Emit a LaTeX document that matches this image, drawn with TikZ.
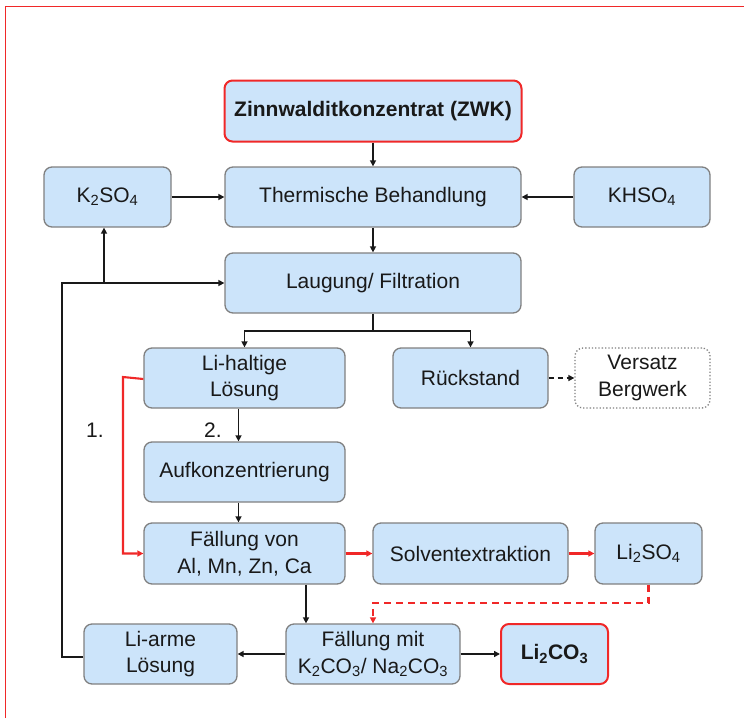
\documentclass[tikz,border=0pt]{standalone}
\usepackage{fontspec}
\setmainfont{Liberation Sans}
\usetikzlibrary{arrows.meta}
\definecolor{boxfill}{RGB}{204,228,250}
\definecolor{boxline}{RGB}{128,128,128}
\definecolor{txt}{RGB}{25,25,25}
\definecolor{redl}{RGB}{240,40,40}
\tikzset{
  box/.style={draw=boxline, fill=boxfill, line width=1.3pt, rounded corners=8pt,
    align=center, text=txt, font=\fontsize{21}{26.5}\selectfont, inner sep=0pt},
  keybox/.style={box, draw=redl, line width=2pt},
  dotbox/.style={box, fill=white, dotted, draw=boxline},
  conn/.style={line width=1.7pt, draw=txt, -{Triangle[length=6pt,width=6pt]}},
  plain/.style={line width=1.7pt, draw=txt},
  redconn/.style={line width=2.1pt, draw=redl, -{Triangle[length=6pt,width=6pt]}},
  lbl/.style={text=txt, font=\fontsize{21}{26.5}\selectfont, inner sep=0pt}
}
\begin{document}
\begin{tikzpicture}[x=1pt,y=-1pt]
\useasboundingbox (0,0) rectangle (744,718);
\draw[redl, line width=1pt] (5.5,718) -- (5.5,6.5) -- (744,6.5);

\node[keybox, minimum width=297pt, minimum height=61pt] (zwk) at (373,111) {\textbf{Zinnwalditkonzentrat (ZWK)}};
\node[box, minimum width=127pt, minimum height=60pt] (k2so4) at (107.5,197) {K\textsubscript{2}SO\textsubscript{4}};
\node[box, minimum width=296pt, minimum height=60pt] (therm) at (373,197) {Thermische Behandlung};
\node[box, minimum width=136pt, minimum height=60pt] (khso4) at (642,197) {KHSO\textsubscript{4}};
\node[box, minimum width=296pt, minimum height=60pt] (laug) at (373,283) {Laugung/ Filtration};
\node[box, minimum width=201pt, minimum height=60pt] (lihalt) at (244.5,378) {Li-haltige\\Lösung};
\node[box, minimum width=155pt, minimum height=60pt] (rueck) at (470.5,378) {Rückstand};
\node[dotbox, minimum width=135pt, minimum height=60pt] (versatz) at (642.5,378) {Versatz\\Bergwerk};
\node[box, minimum width=201pt, minimum height=60pt] (aufk) at (244.5,472) {Aufkonzentrierung};
\node[box, minimum width=201pt, minimum height=61pt] (fvon) at (244.5,553.5) {Fällung von\\Al, Mn, Zn, Ca};
\node[box, minimum width=195pt, minimum height=61pt] (solv) at (470.5,553.5) {Solventextraktion};
\node[box, minimum width=107pt, minimum height=61pt] (li2so4) at (648.5,553.5) {Li\textsubscript{2}SO\textsubscript{4}};
\node[box, minimum width=153pt, minimum height=60pt] (liarm) at (160.5,654) {Li-arme\\Lösung};
\node[box, minimum width=174pt, minimum height=60pt] (fmit) at (373,654) {Fällung mit\\K\textsubscript{2}CO\textsubscript{3}/ Na\textsubscript{2}CO\textsubscript{3}};
\node[keybox, minimum width=107pt, minimum height=60pt] (li2co3) at (554.5,654) {\textbf{Li\textsubscript{2}CO\textsubscript{3}}};

\node[lbl] (one) at (95,430) {1.};
\node[lbl] (two) at (213,430) {2.};

\coordinate (sp) at (373,331);
\coordinate (lc) at (62,283);
\coordinate (kj) at (104,283);
\coordinate (rc) at (123,377);
\coordinate (dd) at (373,603);

\draw[conn] (zwk) -- (therm);
\draw[conn] (k2so4) -- (therm);
\draw[conn] (khso4) -- (therm);
\draw[conn] (therm) -- (laug);
\draw[plain] (laug) -- (sp);
\draw[conn] (sp) -| (lihalt.north);
\draw[conn] (sp) -| (rueck.north);
\draw[conn, dash pattern=on 5pt off 4pt] (rueck) -- (versatz);
\draw[conn] ([xshift=-6pt]lihalt.south) -- ([xshift=-6pt]aufk.north);
\draw[conn] ([xshift=-6pt]aufk.south) -- ([xshift=-6pt]fvon.north);
\draw[redconn] ([yshift=-1pt]lihalt.west) -- (rc) |- (fvon.west);
\draw[redconn] (fvon) -- (solv);
\draw[redconn] (solv) -- (li2so4);
\draw[redconn, dash pattern=on 7pt off 5pt] (li2so4.south) |- (dd) -- (fmit.north);
\draw[conn] ([xshift=61.5pt]fvon.south) -- ([xshift=-67pt]fmit.north);
\draw[conn] (fmit) -- (liarm);
\draw[conn] (fmit) -- (li2co3);
\draw[conn] ([yshift=-3pt]liarm.west) -| (lc) -- (laug.west);
\draw[conn] (kj) -- (kj |- k2so4.south);
\end{tikzpicture}
\end{document}
